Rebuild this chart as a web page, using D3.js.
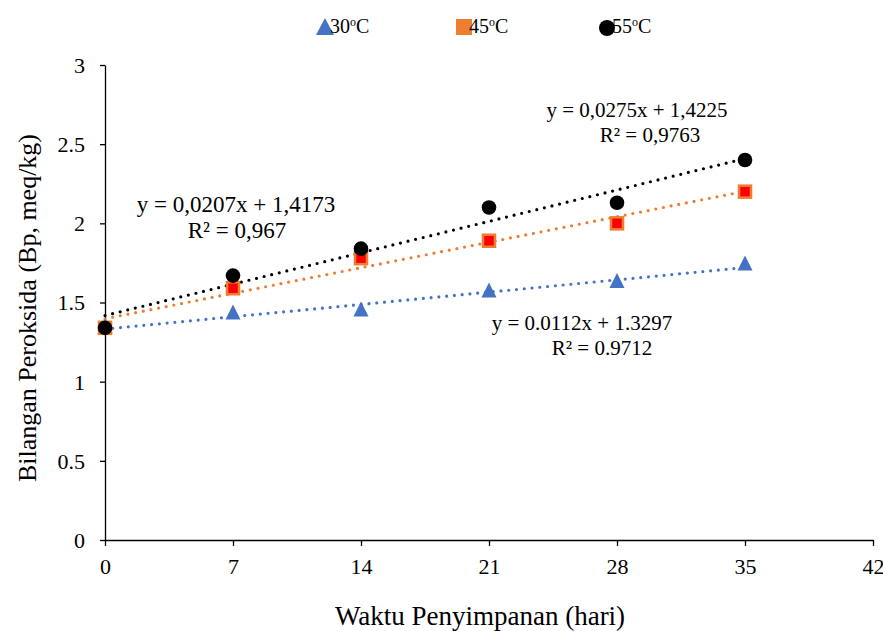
<!DOCTYPE html>
<html>
<head>
<meta charset="utf-8">
<script src="https://cdn.jsdelivr.net/npm/d3@7"></script>
<style>
  body { margin: 0; background: #fff; }
  text { font-family: "Liberation Serif", "Times New Roman", serif; fill: #000; }
</style>
</head>
<body>
<div id="chart"></div>
<script>
var svgWidth = 883;
var svgHeight = 631;

var margin = { top: 65, right: 10, bottom: 91, left: 105 };
var width = 873 - margin.left;
var height = 540 - margin.top;

// data
var days = [0, 7, 14, 21, 28, 35];
var t30 = [1.34, 1.43, 1.45, 1.57, 1.63, 1.74];
var t45 = [1.34, 1.59, 1.78, 1.89, 2.00, 2.20];
var t55 = [1.34, 1.67, 1.84, 2.10, 2.13, 2.40];
var xTicks = [0, 7, 14, 21, 28, 35, 42];
var yTicks = [0, 0.5, 1, 1.5, 2, 2.5, 3];

var svg = d3.select("#chart").append("svg")
  .attr("width", svgWidth)
  .attr("height", svgHeight);

var chartGroup = svg.append("g")
  .attr("transform", `translate(${margin.left}, ${margin.top})`);

var x = d3.scaleLinear().domain([0, 42]).range([0, width]);
var y = d3.scaleLinear().domain([0, 3]).range([height, 0]);

// axes
var bottomAxis = d3.axisBottom(x).tickValues(xTicks).tickSize(6).tickSizeOuter(0).tickPadding(12);
var leftAxis = d3.axisLeft(y).tickValues(yTicks).tickSize(5).tickSizeOuter(0).tickPadding(15)
  .tickFormat(d => d);

var gx = chartGroup.append("g")
  .attr("transform", `translate(0, ${height})`)
  .call(bottomAxis);
var gy = chartGroup.append("g").call(leftAxis);

[gx, gy].forEach(function(g) {
  g.selectAll("path, line").attr("stroke", "#000").attr("stroke-width", 1.3);
  g.selectAll("text").style("font-size", "22px").style("font-family", "Liberation Serif");
});
gy.selectAll("text").attr("dy", "0.34em");

// least squares trendline
function fit(xs, ys) {
  var mx = d3.mean(xs), my = d3.mean(ys);
  var sxy = d3.sum(xs, (v, i) => (v - mx) * (ys[i] - my));
  var sxx = d3.sum(xs, v => (v - mx) * (v - mx));
  var b = sxy / sxx;
  return { b: b, a: my - b * mx };
}

var series = [
  { name: "30", vals: t30, color: "#4472C4", shape: "tri" },
  { name: "45", vals: t45, color: "#ED7D31", shape: "sq" },
  { name: "55", vals: t55, color: "#000000", shape: "circ" }
];

series.forEach(function(s) {
  var f = fit(days, s.vals);
  chartGroup.append("line")
    .attr("x1", x(0)).attr("y1", y(f.a))
    .attr("x2", x(35)).attr("y2", y(f.a + f.b * 35))
    .attr("stroke", s.color)
    .attr("stroke-width", 3.2)
    .attr("stroke-linecap", "round")
    .attr("stroke-dasharray", "0 7.8");
});

function drawMarker(g, shape, cx, cy) {
  if (shape === "tri") {
    g.append("path")
      .attr("d", `M${cx},${cy - 9} L${cx + 7.5},${cy + 6} L${cx - 7.5},${cy + 6} Z`)
      .attr("fill", "#4472C4");
  } else if (shape === "sq") {
    g.append("rect")
      .attr("x", cx - 6).attr("y", cy - 6)
      .attr("width", 12).attr("height", 12)
      .attr("fill", "#FF0000")
      .attr("stroke", "#ED7D31")
      .attr("stroke-width", 2.5);
  } else {
    g.append("circle")
      .attr("cx", cx).attr("cy", cy).attr("r", 7.3)
      .attr("fill", "#000");
  }
}

// markers: 30 then 45 then 55 on top
series.forEach(function(s) {
  days.forEach(function(d, i) {
    drawMarker(chartGroup, s.shape, x(d), y(s.vals[i]));
  });
});

// equations
var eqs = [
  { t1: "y = 0,0275x + 1,4225", t2: "R² = 0,9763", x1: 637, y1: 117, x2: 650, y2: 142, fs: 21 },
  { t1: "y = 0,0207x + 1,4173", t2: "R² = 0,967", x1: 236, y1: 212, x2: 237, y2: 238, fs: 23 },
  { t1: "y = 0.0112x + 1.3297", t2: "R² = 0.9712", x1: 582, y1: 330, x2: 602, y2: 355, fs: 21 }
];
eqs.forEach(function(e) {
  svg.append("text").attr("x", e.x1).attr("y", e.y1).attr("text-anchor", "middle")
    .style("font-size", e.fs + "px").text(e.t1);
  svg.append("text").attr("x", e.x2).attr("y", e.y2).attr("text-anchor", "middle")
    .style("font-size", e.fs + "px").text(e.t2);
});

// legend
var legend = [
  { shape: "tri", x: 325, label: "30" },
  { shape: "sq", x: 464, label: "45" },
  { shape: "circ", x: 607, label: "55" }
];
legend.forEach(function(l) {
  var lg = svg.append("g");
  if (l.shape === "sq") {
    lg.append("rect").attr("x", l.x - 8).attr("y", 19).attr("width", 16).attr("height", 16)
      .attr("fill", "#ED7D31");
  } else if (l.shape === "tri") {
    lg.append("path").attr("d", `M${l.x},${18} L${l.x + 9},${35} L${l.x - 9},${35} Z`)
      .attr("fill", "#4472C4");
  } else {
    lg.append("circle").attr("cx", l.x).attr("cy", 28).attr("r", 8).attr("fill", "#000");
  }
  var t = lg.append("text").attr("x", l.x + 5).attr("y", 33).style("font-size", "20px");
  t.append("tspan").text(l.label);
  t.append("tspan").attr("dy", -7).style("font-size", "12px").text("o");
  t.append("tspan").attr("dy", 7).text("C");
});

// axis titles
svg.append("text")
  .attr("transform", "rotate(-90)")
  .attr("x", -308).attr("y", 36)
  .attr("text-anchor", "middle")
  .style("font-size", "26px")
  .text("Bilangan Peroksida (Bp, meq/kg)");

svg.append("text")
  .attr("x", 480).attr("y", 625)
  .attr("text-anchor", "middle")
  .style("font-size", "27px")
  .text("Waktu Penyimpanan (hari)");
</script>
</body>
</html>
